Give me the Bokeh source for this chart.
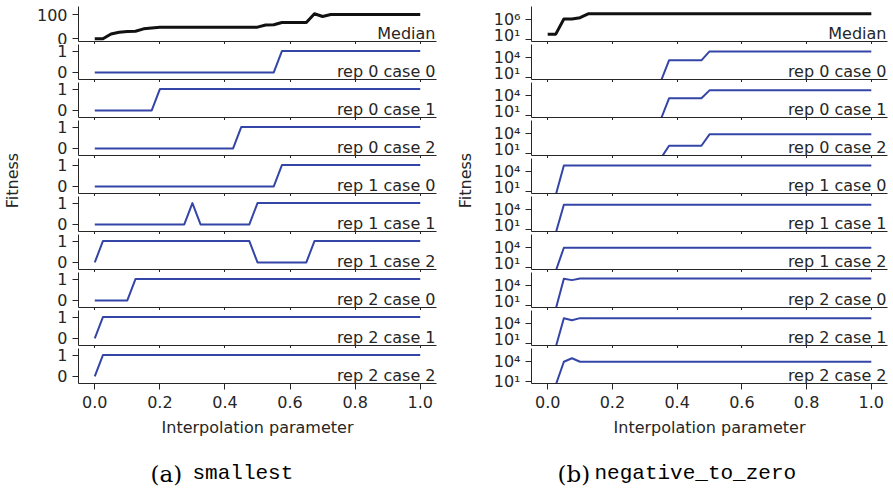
import math
from bokeh.plotting import figure
from bokeh.layouts import row, column
from bokeh.models import (Range1d, FixedTicker, Label, PrintfTickFormatter,
                          CustomJSTickFormatter, CustomLabelingPolicy)
from bokeh.embed import file_html
from bokeh.resources import INLINE

# ---------------- data ----------------
interp = [0.0, 0.025, 0.05, 0.075, 0.1, 0.125, 0.15, 0.175, 0.2, 0.225,
          0.25, 0.275, 0.3, 0.325, 0.35, 0.375, 0.4, 0.425, 0.45, 0.475,
          0.5, 0.525, 0.55, 0.575, 0.6, 0.625, 0.65, 0.675, 0.7, 0.725,
          0.75, 0.775, 0.8, 0.825, 0.85, 0.875, 0.9, 0.925, 0.95, 0.975,
          1.0]

panel_labels = ["Median", "rep 0 case 0", "rep 0 case 1", "rep 0 case 2",
                "rep 1 case 0", "rep 1 case 1", "rep 1 case 2",
                "rep 2 case 0", "rep 2 case 1", "rep 2 case 2"]

x_ticks = [0.0, 0.2, 0.4, 0.6, 0.8, 1.0]

# (a) smallest  -- linear fitness
smallest_median = [0, 0, 20, 27, 30, 31, 41, 45, 48, 48,
                   48, 48, 48, 48, 48, 48, 48, 48, 48, 48,
                   48, 57, 58, 67, 67, 67, 67, 103, 92, 100,
                   100, 100, 100, 100, 100, 100, 100, 100, 100, 100,
                   100]
smallest_r0c0 = [0, 0, 0, 0, 0, 0, 0, 0, 0, 0,
                 0, 0, 0, 0, 0, 0, 0, 0, 0, 0,
                 0, 0, 0, 1, 1, 1, 1, 1, 1, 1,
                 1, 1, 1, 1, 1, 1, 1, 1, 1, 1,
                 1]
smallest_r0c1 = [0, 0, 0, 0, 0, 0, 0, 0, 1, 1,
                 1, 1, 1, 1, 1, 1, 1, 1, 1, 1,
                 1, 1, 1, 1, 1, 1, 1, 1, 1, 1,
                 1, 1, 1, 1, 1, 1, 1, 1, 1, 1,
                 1]
smallest_r0c2 = [0, 0, 0, 0, 0, 0, 0, 0, 0, 0,
                 0, 0, 0, 0, 0, 0, 0, 0, 1, 1,
                 1, 1, 1, 1, 1, 1, 1, 1, 1, 1,
                 1, 1, 1, 1, 1, 1, 1, 1, 1, 1,
                 1]
smallest_r1c0 = [0, 0, 0, 0, 0, 0, 0, 0, 0, 0,
                 0, 0, 0, 0, 0, 0, 0, 0, 0, 0,
                 0, 0, 0, 1, 1, 1, 1, 1, 1, 1,
                 1, 1, 1, 1, 1, 1, 1, 1, 1, 1,
                 1]
smallest_r1c1 = [0, 0, 0, 0, 0, 0, 0, 0, 0, 0,
                 0, 0, 1, 0, 0, 0, 0, 0, 0, 0,
                 1, 1, 1, 1, 1, 1, 1, 1, 1, 1,
                 1, 1, 1, 1, 1, 1, 1, 1, 1, 1,
                 1]
smallest_r1c2 = [0, 1, 1, 1, 1, 1, 1, 1, 1, 1,
                 1, 1, 1, 1, 1, 1, 1, 1, 1, 1,
                 0, 0, 0, 0, 0, 0, 0, 1, 1, 1,
                 1, 1, 1, 1, 1, 1, 1, 1, 1, 1,
                 1]
smallest_r2c0 = [0, 0, 0, 0, 0, 1, 1, 1, 1, 1,
                 1, 1, 1, 1, 1, 1, 1, 1, 1, 1,
                 1, 1, 1, 1, 1, 1, 1, 1, 1, 1,
                 1, 1, 1, 1, 1, 1, 1, 1, 1, 1,
                 1]
smallest_r2c1 = [0, 1, 1, 1, 1, 1, 1, 1, 1, 1,
                 1, 1, 1, 1, 1, 1, 1, 1, 1, 1,
                 1, 1, 1, 1, 1, 1, 1, 1, 1, 1,
                 1, 1, 1, 1, 1, 1, 1, 1, 1, 1,
                 1]
smallest_r2c2 = [0, 1, 1, 1, 1, 1, 1, 1, 1, 1,
                 1, 1, 1, 1, 1, 1, 1, 1, 1, 1,
                 1, 1, 1, 1, 1, 1, 1, 1, 1, 1,
                 1, 1, 1, 1, 1, 1, 1, 1, 1, 1,
                 1]

# (b) negative_to_zero  -- log fitness
ntz_median = [230, 230, 1e6, 1e6, 2.1e6, 1.7e7, 1.7e7, 1.7e7, 1.7e7, 1.7e7,
              1.7e7, 1.7e7, 1.7e7, 1.7e7, 1.7e7, 1.7e7, 1.7e7, 1.7e7, 1.7e7, 1.7e7,
              1.7e7, 1.7e7, 1.7e7, 1.7e7, 1.7e7, 1.7e7, 1.7e7, 1.7e7, 1.7e7, 1.7e7,
              1.7e7, 1.7e7, 1.7e7, 1.7e7, 1.7e7, 1.7e7, 1.7e7, 1.7e7, 1.7e7, 1.7e7,
              1.7e7]
ntz_r0c0 = [3, 3, 3, 3, 3, 3, 3, 3, 3, 3,
            3, 3, 3, 3, 3, 4e3, 4e3, 4e3, 4e3, 4e3,
            9e4, 9e4, 9e4, 9e4, 9e4, 9e4, 9e4, 9e4, 9e4, 9e4,
            9e4, 9e4, 9e4, 9e4, 9e4, 9e4, 9e4, 9e4, 9e4, 9e4,
            9e4]
ntz_r0c1 = [3, 3, 3, 3, 3, 3, 3, 3, 3, 3,
            3, 3, 3, 3, 3, 4e3, 4e3, 4e3, 4e3, 4e3,
            6.5e4, 6.5e4, 6.5e4, 6.5e4, 6.5e4, 6.5e4, 6.5e4, 6.5e4, 6.5e4, 6.5e4,
            6.5e4, 6.5e4, 6.5e4, 6.5e4, 6.5e4, 6.5e4, 6.5e4, 6.5e4, 6.5e4, 6.5e4,
            6.5e4]
ntz_r0c2 = [2, 2, 2, 2, 2, 2, 2, 2, 2, 2,
            2, 2, 2, 2, 2, 150, 150, 150, 150, 150,
            8e3, 8e3, 8e3, 8e3, 8e3, 8e3, 8e3, 8e3, 8e3, 8e3,
            8e3, 8e3, 8e3, 8e3, 8e3, 8e3, 8e3, 8e3, 8e3, 8e3,
            8e3]
ntz_r1c0 = [3, 3, 9e4, 9e4, 9e4, 9e4, 9e4, 9e4, 9e4, 9e4,
            9e4, 9e4, 9e4, 9e4, 9e4, 9e4, 9e4, 9e4, 9e4, 9e4,
            9e4, 9e4, 9e4, 9e4, 9e4, 9e4, 9e4, 9e4, 9e4, 9e4,
            9e4, 9e4, 9e4, 9e4, 9e4, 9e4, 9e4, 9e4, 9e4, 9e4,
            9e4]
ntz_r1c1 = [3, 3, 5.7e4, 5.7e4, 5.7e4, 5.7e4, 5.7e4, 5.7e4, 5.7e4, 5.7e4,
            5.7e4, 5.7e4, 5.7e4, 5.7e4, 5.7e4, 5.7e4, 5.7e4, 5.7e4, 5.7e4, 5.7e4,
            5.7e4, 5.7e4, 5.7e4, 5.7e4, 5.7e4, 5.7e4, 5.7e4, 5.7e4, 5.7e4, 5.7e4,
            5.7e4, 5.7e4, 5.7e4, 5.7e4, 5.7e4, 5.7e4, 5.7e4, 5.7e4, 5.7e4, 5.7e4,
            5.7e4]
ntz_r1c2 = [3, 3, 1e4, 1e4, 1e4, 1e4, 1e4, 1e4, 1e4, 1e4,
            1e4, 1e4, 1e4, 1e4, 1e4, 1e4, 1e4, 1e4, 1e4, 1e4,
            1e4, 1e4, 1e4, 1e4, 1e4, 1e4, 1e4, 1e4, 1e4, 1e4,
            1e4, 1e4, 1e4, 1e4, 1e4, 1e4, 1e4, 1e4, 1e4, 1e4,
            1e4]
ntz_r2c0 = [3, 3, 1.1e5, 7e4, 1.25e5, 1.25e5, 1.25e5, 1.25e5, 1.25e5, 1.25e5,
            1.25e5, 1.25e5, 1.25e5, 1.25e5, 1.25e5, 1.25e5, 1.25e5, 1.25e5, 1.25e5, 1.25e5,
            1.25e5, 1.25e5, 1.25e5, 1.25e5, 1.25e5, 1.25e5, 1.25e5, 1.25e5, 1.25e5, 1.25e5,
            1.25e5, 1.25e5, 1.25e5, 1.25e5, 1.25e5, 1.25e5, 1.25e5, 1.25e5, 1.25e5, 1.25e5,
            1.25e5]
ntz_r2c1 = [3, 3, 6.5e4, 3.4e4, 7e4, 7e4, 7e4, 7e4, 7e4, 7e4,
            7e4, 7e4, 7e4, 7e4, 7e4, 7e4, 7e4, 7e4, 7e4, 7e4,
            7e4, 7e4, 7e4, 7e4, 7e4, 7e4, 7e4, 7e4, 7e4, 7e4,
            7e4, 7e4, 7e4, 7e4, 7e4, 7e4, 7e4, 7e4, 7e4, 7e4,
            7e4]
ntz_r2c2 = [3, 3, 1e4, 3.3e4, 1e4, 1e4, 1e4, 1e4, 1e4, 1e4,
            1e4, 1e4, 1e4, 1e4, 1e4, 1e4, 1e4, 1e4, 1e4, 1e4,
            1e4, 1e4, 1e4, 1e4, 1e4, 1e4, 1e4, 1e4, 1e4, 1e4,
            1e4, 1e4, 1e4, 1e4, 1e4, 1e4, 1e4, 1e4, 1e4, 1e4,
            1e4]

smallest_series = [smallest_median, smallest_r0c0, smallest_r0c1, smallest_r0c2,
                   smallest_r1c0, smallest_r1c1, smallest_r1c2,
                   smallest_r2c0, smallest_r2c1, smallest_r2c2]
ntz_series = [ntz_median, ntz_r0c0, ntz_r0c1, ntz_r0c2,
              ntz_r1c0, ntz_r1c1, ntz_r1c2,
              ntz_r2c0, ntz_r2c1, ntz_r2c2]

left_y_ticks_median = [0, 100]
left_y_ticks_rep = [0, 1]
right_y_ticks_median = [10, 1e6]
right_y_ticks_rep = [10, 1e4]

# ---------------- style ----------------
INK = "#262626"
BLUE = "#3445a8"
FONT = "DejaVu Sans"
FS = "16px"

SUP_JS = """
const s = {"0":"\u2070","1":"\u00b9","2":"\u00b2","3":"\u00b3","4":"\u2074",
           "5":"\u2075","6":"\u2076","7":"\u2077","8":"\u2078","9":"\u2079","-":"\u207b"};
const e = Math.round(Math.log10(tick));
return "10" + String(e).split("").map(c => s[c]).join("");
"""


def make_panel(i, ys, log, width, lb, rb, yr, yticks):
    n = 10
    first = i == 0
    last = i == n - 1
    top = 6 if first else 0
    bottom = 57 if last else 3
    kw = dict(width=width, height=top + 35 + bottom,
              x_range=Range1d(-0.05, 1.05), y_range=Range1d(*yr),
              output_backend="svg", toolbar_location=None, title=None,
              min_border_left=lb, min_border_right=rb,
              min_border_top=top, min_border_bottom=bottom,
              background_fill_color="white", border_fill_color="white",
              outline_line_color=None)
    if log:
        kw["y_axis_type"] = "log"
    p = figure(**kw)
    p.xgrid.visible = False
    p.ygrid.visible = False
    color = "#111111" if first else BLUE
    lw = 3 if first else 2
    p.line(interp, ys, line_color=color, line_width=lw, line_join="round")

    xa = p.xaxis[0]
    xa.ticker = FixedTicker(ticks=x_ticks)
    xa.formatter = PrintfTickFormatter(format="%.1f")
    xa.axis_line_color = INK
    xa.major_tick_line_color = INK
    xa.minor_tick_line_color = None
    xa.major_tick_in = 0
    if last:
        xa.major_tick_out = 6
        xa.major_label_standoff = 6
        xa.major_label_text_font = FONT
        xa.major_label_text_font_size = FS
        xa.major_label_text_color = INK
        xa.axis_label = "Interpolation parameter"
        xa.axis_label_text_font = FONT
        xa.axis_label_text_font_size = FS
        xa.axis_label_text_font_style = "normal"
        xa.axis_label_text_color = INK
        xa.axis_label_standoff = 7
    else:
        xa.major_tick_out = 3
        xa.major_label_standoff = 0
        xa.major_label_text_font_size = "0px"
        xa.major_label_policy = CustomLabelingPolicy(code="return []")

    ya = p.yaxis[0]
    ya.ticker = FixedTicker(ticks=yticks)
    if log:
        ya.formatter = CustomJSTickFormatter(code=SUP_JS)
    ya.axis_line_color = INK
    ya.major_tick_line_color = INK
    ya.minor_tick_line_color = None
    ya.major_tick_in = 0
    ya.major_tick_out = 6
    ya.major_label_standoff = 5
    ya.major_label_text_font = FONT
    ya.major_label_text_font_size = FS
    ya.major_label_text_color = INK

    p.add_layout(Label(x=1.05, y=yr[0], x_units="data", y_units="data",
                       text=panel_labels[i], text_align="right", text_baseline="alphabetic",
                       x_offset=-1, y_offset=8, text_font=FONT, text_font_size=FS,
                       text_color=INK))
    return p


def text_fig(width, height):
    p = figure(width=width, height=height, x_range=Range1d(0, 1), y_range=Range1d(0, 1),
               x_axis_type=None, y_axis_type=None, output_backend="svg",
               toolbar_location=None, title=None, min_border=0,
               min_border_left=0, min_border_right=0, min_border_top=0, min_border_bottom=0,
               outline_line_color=None, background_fill_color="white",
               border_fill_color="white")
    return p


def half(series, log, width, lb, rb, yr_med, yr_rep, yt_med, yt_rep, fit_x, cap_a, cap_b, a_x, b_x):
    panels = []
    for i, ys in enumerate(series):
        yr = yr_med if i == 0 else yr_rep
        yt = yt_med if i == 0 else yt_rep
        panels.append(make_panel(i, ys, log, width, lb, rb, yr, yt))
    fit = text_fig(30, 440)
    fit.add_layout(Label(x=fit_x, y=260, x_units="screen", y_units="screen", text="Fitness",
                         angle=math.pi / 2, text_align="center", text_baseline="middle",
                         text_font=FONT, text_font_size=FS, text_color=INK))
    cap = text_fig(width + 30, 48)
    cap.add_layout(Label(x=a_x, y=15, x_units="screen", y_units="screen", text=cap_a,
                         text_align="left", text_baseline="alphabetic",
                         text_font="DejaVu Serif", text_font_size="23px", text_color="black"))
    cap.add_layout(Label(x=b_x, y=15, x_units="screen", y_units="screen", text=cap_b,
                         text_align="left", text_baseline="alphabetic",
                         text_font="Liberation Mono", text_font_size="21px", text_color="black"))
    return column(row(fit, column(*panels, spacing=0), spacing=0), cap, spacing=0)


left = half(smallest_series, False, 416, 48, 10, (-11, 133), (-0.33, 1.31),
            left_y_ticks_median, left_y_ticks_rep, 12, "(a)", "smallest", 150, 192)
right = half(ntz_series, True, 417, 55, 6, (10 ** 0.6, 1e9), (10 ** 0.7, 1e6),
             right_y_ticks_median, right_y_ticks_rep, 19, "(b)", "negative_to_zero", 111, 148)

root = row(left, right, spacing=0)

with open("out.html", "w") as f:
    f.write(file_html(root, INLINE))
